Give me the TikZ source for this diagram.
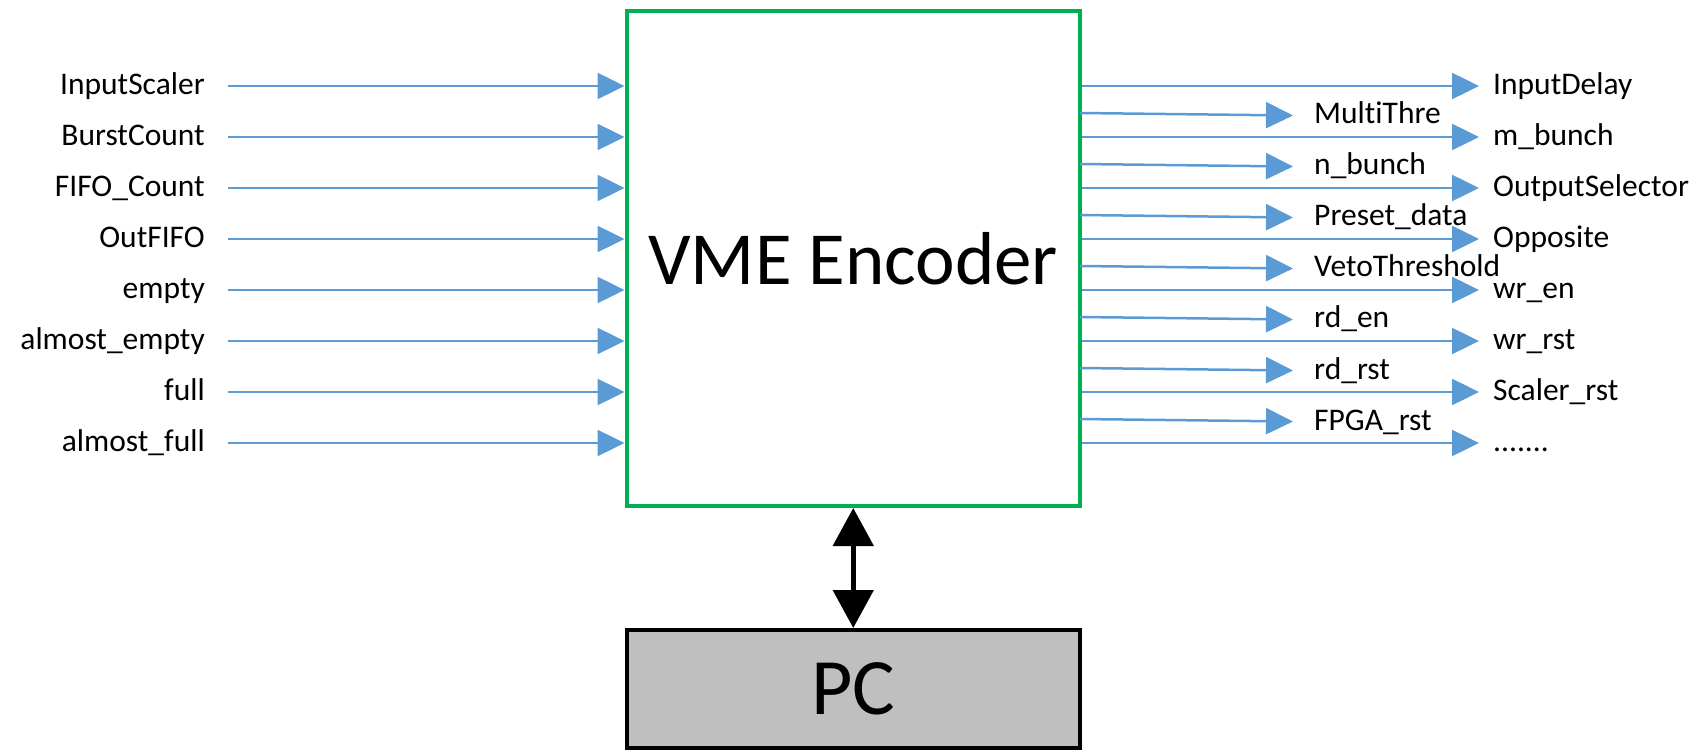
\documentclass[tikz,border=0pt]{standalone}
\usepackage{fontspec}
\setmainfont{Carlito}[Ligatures={NoCommon}]
\usetikzlibrary{arrows.meta}
\definecolor{sigCol}{HTML}{5B9BD5}
\definecolor{encCol}{HTML}{00B050}
\definecolor{pcCol}{HTML}{BFBFBF}
\newcommand{\moresig}{.......}

\begin{document}
\begin{tikzpicture}[x=1pt,y=-1pt,
  sig/.style={-{Triangle[length=27pt,width=26pt]},line width=2.5pt,sigCol},
  lbl/.style={font=\fontsize{31.5}{31.5}\selectfont,inner sep=0pt,
    text height=21pt,text depth=4pt},
  block/.style={draw=#1,line width=4pt,minimum width=453.5pt,align=center},
]
\useasboundingbox (0,0) rectangle (1695,751);

\node[block=encCol,fill=white,minimum height=495pt,
  font=\fontsize{75}{75}\selectfont] (enc) at (853.25,258.5) {VME Encoder};
\node[block=black,fill=pcCol,minimum height=117.5pt,
  font=\fontsize{80}{80}\selectfont] (pc) at (853.25,688.75) {PC};

% host link
\draw[{Triangle[length=38pt,width=40pt]}-{Triangle[length=38pt,width=40pt]},
  line width=5pt] (enc.south) -- (pc.north);

% inputs
\foreach \txt [count=\i] in {InputScaler,BurstCount,FIFO\_Count,OutFIFO,
    empty,almost\_empty,full,almost\_full}{
  \node[lbl,anchor=east] (in\i) at (205,35+51*\i) {\txt};
  \draw[sig] ([xshift=23pt]in\i.east) -- (enc.west |- in\i.east);
}

% outputs, long
\foreach \txt [count=\i] in {InputDelay,m\_bunch,OutputSelector,Opposite,
    wr\_en,wr\_rst,Scaler\_rst,\moresig}{
  \node[lbl,anchor=west] (lo\i) at (1493,35+51*\i) {\txt};
  \draw[sig] (enc.east |- lo\i.west) -- ([xshift=-14pt]lo\i.west);
}

% outputs, short
\foreach \txt [count=\i] in {MultiThre,n\_bunch,Preset\_data,VetoThreshold,
    rd\_en,rd\_rst,FPGA\_rst}{
  \node[lbl,anchor=west] (sh\i) at (1314,64.5+51*\i) {\txt};
  \coordinate (st\i) at (1080,62+51*\i);
  \draw[sig] (st\i) -- ([xshift=-21pt]sh\i.west);
}

\end{tikzpicture}
\end{document}
